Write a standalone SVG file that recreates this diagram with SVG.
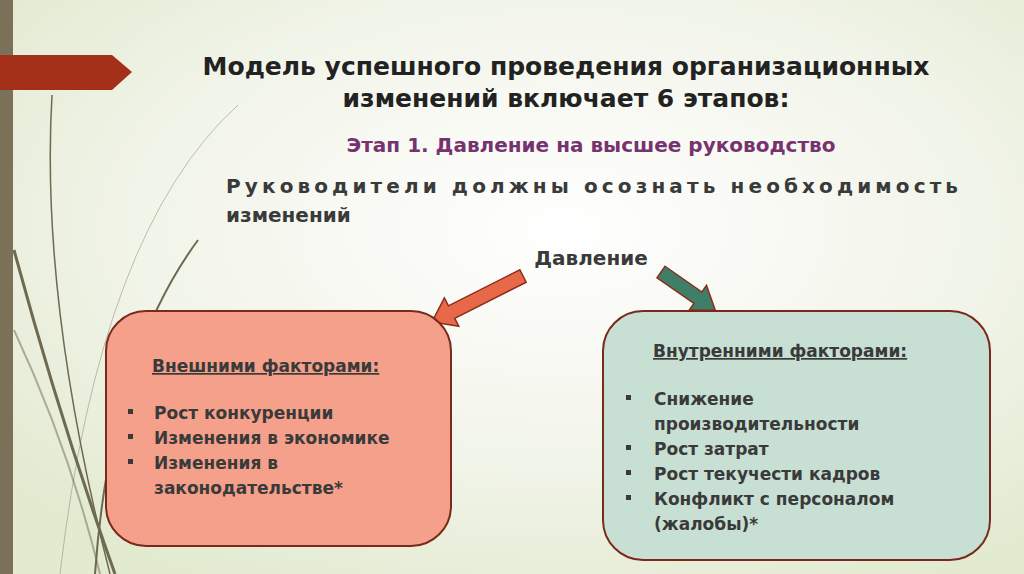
<svg xmlns="http://www.w3.org/2000/svg" width="1024" height="574" viewBox="0 0 1024 574">
<defs>
<radialGradient id="bg" cx="0.55" cy="0.4" r="0.7">
<stop offset="0" stop-color="#ffffff"/><stop offset="0.6" stop-color="#f1f4e8"/><stop offset="1" stop-color="#e2ead0"/>
</radialGradient>
<style>
text{font-family:"DejaVu Sans","Liberation Sans",sans-serif;font-weight:bold;fill:#3a3a3a}
.t{font-size:25px;fill:#222}
.b{font-size:17px}
.arr{stroke:#8b2e1e;stroke-width:1.5}
.box{stroke:#7a2a1a;stroke-width:2}
.sq{fill:#3a3a3a}
.curve{fill:none;stroke:#6e6a50}
</style>
</defs>
<rect width="1024" height="574" fill="url(#bg)"/>
<path class="curve" d="M52 95 Q40 300 110 574" stroke-width="1.5"/>
<path class="curve" d="M14 250 Q60 420 115 574" stroke-width="3"/>
<path class="curve" d="M14 330 Q70 450 100 574" stroke-width="2" opacity="0.5"/>
<path class="curve" d="M238 105 Q100 230 60 574" stroke-width="1" opacity="0.4"/>
<path class="curve" d="M198 240 Q110 360 95 574" stroke-width="2"/>
<rect x="0" y="0" width="13" height="574" fill="#7a7158"/>
<path d="M0 55 H112 L132 72 L112 90 H0 Z" fill="#a5301a"/>
<text class="t" x="566" y="75" text-anchor="middle">Модель успешного проведения организационных</text>
<text class="t" x="566" y="107" text-anchor="middle">изменений включает 6 этапов:</text>
<text x="591" y="152" text-anchor="middle" font-size="20" style="fill:#76336f">Этап 1. Давление на высшее руководство</text>
<text x="226" y="193" font-size="20" textLength="732" lengthAdjust="spacing" style="fill:#3a3a3a">Руководители должны осознать необходимость</text>
<text x="226" y="222" font-size="20">изменений</text>
<text x="591" y="265" text-anchor="middle" font-size="20">Давление</text>
<g id="connectors">
<polygon class="arr" fill="#e8684a" transform="translate(523,276) rotate(153.2)" points="0,-7 80,-7 80,-16 102,0 80,16 80,7 0,7"/>
<polygon class="arr" fill="#3f7f67" transform="translate(661,272) rotate(34.9)" points="0,-7 45,-7 45,-15 66,0 45,15 45,7 0,7"/>
</g>
<g id="left">
<rect class="box" x="106" y="311" width="345" height="235" rx="40" fill="#f4a08a"/>
<text class="b" x="152" y="372" text-decoration="underline">Внешними факторами:</text>
<rect class="sq" x="128" y="409" width="5" height="5"/><text class="b" x="154" y="419">Рост конкуренции</text>
<rect class="sq" x="128" y="434" width="5" height="5"/><text class="b" x="154" y="444">Изменения в экономике</text>
<rect class="sq" x="128" y="459" width="5" height="5"/><text class="b" x="154" y="469">Изменения в</text>
<text class="b" x="154" y="494">законодательстве*</text>
</g>
<g id="right">
<rect class="box" x="603" y="311" width="387" height="249" rx="40" fill="#c8e0d4"/>
<text class="b" x="653" y="357" text-decoration="underline">Внутренними факторами:</text>
<rect class="sq" x="626" y="395" width="5" height="5"/><text class="b" x="654" y="405">Снижение</text>
<text class="b" x="654" y="430">производительности</text>
<rect class="sq" x="626" y="445" width="5" height="5"/><text class="b" x="654" y="455">Рост затрат</text>
<rect class="sq" x="626" y="470" width="5" height="5"/><text class="b" x="654" y="480">Рост текучести кадров</text>
<rect class="sq" x="626" y="495" width="5" height="5"/><text class="b" x="654" y="505">Конфликт с персоналом</text>
<text class="b" x="654" y="530">(жалобы)*</text>
</g>
</svg>
